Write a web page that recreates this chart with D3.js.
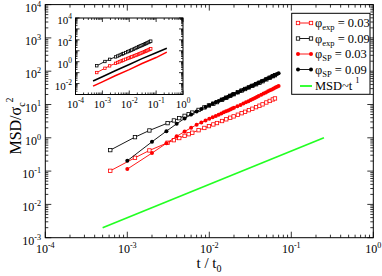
<!DOCTYPE html>
<html>
<head>
<meta charset="utf-8">
<script src="https://cdn.jsdelivr.net/npm/d3@7"></script>
<style>
  body { margin: 0; background: #fff; }
  svg { display: block; }
  text { font-family: "Liberation Serif", "DejaVu Serif", serif; fill: #000; }
</style>
</head>
<body>
<div id="chart"></div>
<script>
// experimental MSD (open squares)
const expTimes = [0.00062, 0.00124, 0.00186, 0.0031, 0.0037, 0.0043, 0.0050, 0.0056, 0.0062, 0.0074,
  0.0087, 0.0099, 0.0112, 0.0124, 0.0143, 0.0161, 0.0180, 0.0198, 0.0223, 0.0248,
  0.0273, 0.0304, 0.0335, 0.0372, 0.0409, 0.0446, 0.0496, 0.0546, 0.0595, 0.0632];
const expPhi003 = [0.102, 0.251, 0.417, 0.710, 0.847, 0.984, 1.146, 1.282, 1.419, 1.690,
  1.977, 2.239, 2.518, 2.773, 3.19, 3.59, 4.00, 4.40, 4.93, 5.48,
  6.05, 6.76, 7.46, 8.32, 9.20, 10.1, 11.5, 12.8, 14.2, 15.2];
const expPhi009 = [0.427, 1.047, 1.66, 2.76, 3.32, 3.89, 4.56, 5.13, 5.71, 6.87,
  8.17, 9.35, 10.6, 11.8, 13.9, 16.0, 18.2, 20.4, 23.4, 26.3,
  29.2, 32.7, 36.3, 40.6, 45.1, 50.0, 56.8, 63.7, 70.8, 76.0];

// simulated MSD (filled symbols)
const spTimes = [0.001, 0.002, 0.003, 0.004, 0.005, 0.006, 0.007, 0.008, 0.009, 0.010,
  0.011, 0.012, 0.013, 0.014, 0.015, 0.016, 0.017, 0.018, 0.019, 0.020,
  0.022, 0.024, 0.026, 0.028, 0.030, 0.032, 0.034, 0.036, 0.038, 0.040,
  0.043, 0.046, 0.049, 0.052, 0.055, 0.058, 0.061, 0.064, 0.067, 0.070];
const spPhi003 = [0.115, 0.348, 0.684, 1.104, 1.549, 1.99, 2.47, 2.88, 3.30, 3.72,
  4.12, 4.54, 4.95, 5.38, 5.81, 6.22, 6.65, 7.08, 7.52, 7.94,
  8.79, 9.68, 10.7, 11.6, 12.6, 13.7, 14.7, 15.7, 16.8, 17.9,
  19.5, 21.3, 23.0, 24.8, 26.6, 28.4, 30.3, 32.2, 34.0, 36.0];
const spPhi009 = [0.204, 0.759, 1.585, 2.63, 3.80, 5.01, 6.17, 7.31, 8.41, 9.55,
  10.6, 11.7, 12.7, 13.8, 14.9, 16.0, 17.1, 18.3, 19.5, 20.7,
  23.0, 25.5, 27.8, 30.2, 32.6, 35.1, 37.4, 39.9, 42.5, 44.9,
  48.9, 53.0, 56.9, 61.1, 65.2, 69.3, 73.5, 77.6, 82.0, 86.3];

// reference slope line MSD ~ t
const refTimes = [0.0005, 0.25];
const refMsd = [0.002, 1.0];

// inset solid curves
const insetTimes = [0.00045, 0.001, 0.003, 0.01, 0.03, 0.1, 0.25];
const insetBlack = [0.017, 0.042, 0.15, 0.55, 1.9, 6.6, 17];
const insetRed = [0.0058, 0.0145, 0.052, 0.19, 0.68, 2.4, 7.5];

const xDecades = [1e-4, 1e-3, 1e-2, 1e-1, 1];
const yDecades = [1e-3, 1e-2, 1e-1, 1, 1e1, 1e2, 1e3, 1e4];
const insetYLabels = [1e-2, 1, 1e2, 1e4];

const RED = '#ff0000', BLACK = '#000000', GREEN = '#22ff22';

const svg = d3.select('#chart').append('svg')
  .attr('width', 382)
  .attr('height', 276);

const x = d3.scaleLog().domain([1e-4, 1]).range([45.3, 373.3]);
const y = d3.scaleLog().domain([1e-3, 1e4]).range([237.7, 4.6]);

const isMajor = v => Math.abs(Math.log10(v) - Math.round(Math.log10(v))) < 1e-6;

// power-of-ten label with superscript exponent
function powLabel(g, v, px, py, anchor, size) {
  const t = g.append('text')
    .attr('x', px).attr('y', py)
    .attr('text-anchor', anchor)
    .style('font-size', size + 'px');
  t.append('tspan').text('10');
  t.append('tspan')
    .attr('dy', -size * 0.42)
    .style('font-size', (size * 0.68) + 'px')
    .text(Math.round(Math.log10(v)));
}

// frame with inward ticks on all four sides
function frame(g, xs, ys, bigLen, smallLen) {
  const [xa, xb] = xs.range();
  const [yb, yt] = ys.range();
  g.append('rect')
    .attr('x', xa).attr('y', yt)
    .attr('width', xb - xa).attr('height', yb - yt)
    .attr('fill', '#fff').attr('stroke', '#000').attr('stroke-width', 1);
  const tk = g.append('g').attr('stroke', '#000').attr('stroke-width', 0.8);
  xs.ticks().forEach(v => {
    const len = isMajor(v) ? bigLen : smallLen;
    const px = xs(v);
    tk.append('line').attr('x1', px).attr('x2', px).attr('y1', yb).attr('y2', yb - len);
    tk.append('line').attr('x1', px).attr('x2', px).attr('y1', yt).attr('y2', yt + len);
  });
  ys.ticks().forEach(v => {
    const len = isMajor(v) ? bigLen : smallLen;
    const py = ys(v);
    tk.append('line').attr('x1', xa).attr('x2', xa + len).attr('y1', py).attr('y2', py);
    tk.append('line').attr('x1', xb).attr('x2', xb - len).attr('y1', py).attr('y2', py);
  });
}

function series(g, xs, ys, times, vals, color, marker, size, width) {
  const pts = times.map((t, i) => [t, vals[i]]);
  g.append('path')
    .datum(pts)
    .attr('fill', 'none')
    .attr('stroke', color)
    .attr('stroke-width', width)
    .attr('d', d3.line().x(d => xs(d[0])).y(d => ys(d[1])));
  if (marker === 'square') {
    g.selectAll(null).data(pts).enter().append('rect')
      .attr('x', d => xs(d[0]) - size / 2)
      .attr('y', d => ys(d[1]) - size / 2)
      .attr('width', size).attr('height', size)
      .attr('fill', '#fff').attr('stroke', color).attr('stroke-width', 0.8);
  } else if (marker === 'dot') {
    g.selectAll(null).data(pts).enter().append('circle')
      .attr('cx', d => xs(d[0])).attr('cy', d => ys(d[1]))
      .attr('r', size / 2)
      .attr('fill', color);
  }
}

// main panel
const main = svg.append('g');
frame(main, x, y, 6, 3);

series(main, x, y, refTimes, refMsd, GREEN, null, 0, 1.7);
series(main, x, y, expTimes, expPhi003, RED, 'square', 3.4, 0.9);
series(main, x, y, expTimes, expPhi009, BLACK, 'square', 3.4, 0.9);
series(main, x, y, spTimes, spPhi003, RED, 'dot', 4, 0.9);
series(main, x, y, spTimes, spPhi009, BLACK, 'dot', 4, 0.9);

xDecades.forEach(v => powLabel(main, v, x(v), 253, 'middle', 12));
yDecades.forEach(v => powLabel(main, v, 41, y(v) + 7, 'end', 12));

// axis titles
const xt = main.append('text')
  .attr('x', 209).attr('y', 268)
  .attr('text-anchor', 'middle')
  .style('font-size', '15px');
xt.append('tspan').text('t / t');
xt.append('tspan').attr('dy', 4).style('font-size', '10px').text('0');

const yt = main.append('text')
  .attr('transform', 'translate(21,126) rotate(-90)')
  .attr('text-anchor', 'middle')
  .style('font-size', '16px');
yt.append('tspan').text('MSD/σ');
yt.append('tspan').attr('dy', 4).style('font-size', '10px').text('c');
yt.append('tspan').attr('dy', -12).style('font-size', '10px').text('2');

// inset panel
const xi = d3.scaleLog().domain([1e-4, 1]).range([75.5, 183]);
const yi = d3.scaleLog().domain([1e-3, 1e4]).range([94.5, 18]);
const inset = svg.append('g');
frame(inset, xi, yi, 4, 2);

series(inset, xi, yi, expTimes, expPhi009, BLACK, 'square', 2.4, 0.9);
series(inset, xi, yi, expTimes, expPhi003, RED, 'square', 2.4, 0.9);
series(inset, xi, yi, insetTimes, insetBlack, BLACK, null, 0, 1.5);
series(inset, xi, yi, insetTimes, insetRed, RED, null, 0, 1.5);

xDecades.forEach(v => powLabel(inset, v, xi(v), 108, 'middle', 11));
insetYLabels.forEach(v => powLabel(inset, v, 72, yi(v) + 6, 'end', 11));

// legend
const legendItems = [
  { sym: 'φ', sub: 'exp', val: ' = 0.03', color: RED, marker: 'square' },
  { sym: 'φ', sub: 'exp', val: ' = 0.09', color: BLACK, marker: 'square' },
  { sym: 'φ', sub: 'SP', val: ' = 0.03', color: RED, marker: 'dot' },
  { sym: 'φ', sub: 'SP', val: ' = 0.09', color: BLACK, marker: 'dot' },
  { sym: 'MSD~t', sup: '1', color: GREEN, marker: null }
];
const legendY = [23, 38.5, 54, 69.5, 86];

const legend = svg.append('g');
legend.append('rect')
  .attr('x', 291.7).attr('y', 13.3)
  .attr('width', 78.3).attr('height', 81)
  .attr('fill', '#fff').attr('stroke', '#000').attr('stroke-width', 1);

legendItems.forEach((d, i) => {
  const ly = legendY[i];
  const row = legend.append('g');
  if (d.marker) {
    row.append('line').attr('x1', 298).attr('x2', 311).attr('y1', ly).attr('y2', ly)
      .attr('stroke', d.color).attr('stroke-width', 0.9);
    [298, 311].forEach(mx => {
      if (d.marker === 'square') {
        row.append('rect').attr('x', mx - 1.7).attr('y', ly - 1.7).attr('width', 3.4).attr('height', 3.4)
          .attr('fill', '#fff').attr('stroke', d.color).attr('stroke-width', 0.8);
      } else {
        row.append('circle').attr('cx', mx).attr('cy', ly).attr('r', 2).attr('fill', d.color);
      }
    });
  } else {
    row.append('line').attr('x1', 300).attr('x2', 312).attr('y1', ly).attr('y2', ly)
      .attr('stroke', d.color).attr('stroke-width', 1.8);
  }
  const t = row.append('text').attr('x', 315).attr('y', ly + 4).style('font-size', '12.5px');
  t.append('tspan').text(d.sym);
  if (d.sub) {
    t.append('tspan').attr('dy', 3).style('font-size', '8.5px').text(d.sub);
    t.append('tspan').attr('dy', -3).text(d.val);
  }
  if (d.sup) {
    t.append('tspan').attr('dx', 3).attr('dy', -7).style('font-size', '8.5px').text(d.sup);
  }
});
</script>
</body>
</html>
